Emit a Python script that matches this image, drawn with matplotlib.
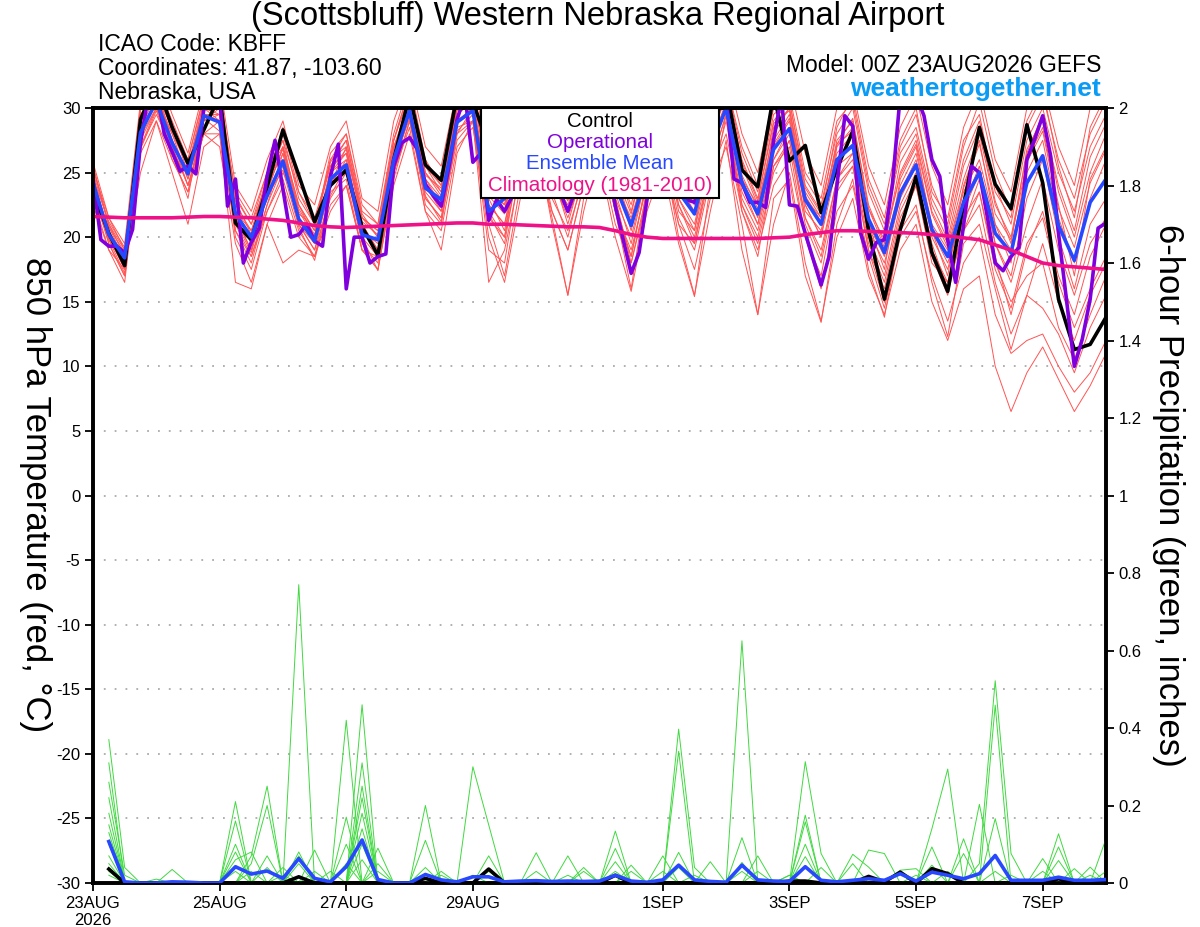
import numpy as np
import matplotlib
matplotlib.use('Agg')
import matplotlib.pyplot as plt
from matplotlib.patches import Rectangle

plt.rcParams['font.family'] = ['Liberation Sans', 'DejaVu Sans']
plt.rcParams['axes.unicode_minus'] = False

# ---------------- data ----------------
title = "(Scottsbluff) Western Nebraska Regional Airport"
tick_hours = [0, 48, 96, 144, 216, 264, 312, 360]
tick_labels = ['23AUG\n2026', '25AUG', '27AUG', '29AUG', '1SEP', '3SEP', '5SEP', '7SEP']

control_t = [23.6, 20.3, 17.8, 29.1, 32.0, 28.5, 25.7, 28.3, 31.0, 21.1, 19.8, 23.9,
             28.3, 24.8, 21.2, 24.0, 25.2, 20.8, 18.6, 26.0, 31.0, 25.6, 24.4, 31.0,
             30.5, 27.0, 25.0, 28.0, 30.0, 27.0, 25.0, 28.0, 31.0, 27.0, 24.0, 27.0,
             30.0, 27.0, 24.5, 28.0, 31.5, 25.2, 23.9, 31.0, 25.9, 27.1, 21.9, 25.3,
             28.2, 20.5, 15.2, 20.6, 24.7, 18.8, 15.8, 22.5, 28.5, 24.1, 22.2, 28.7,
             24.2, 15.2, 11.3, 11.7, 13.8]

mean_t = [24.2, 20.2, 18.4, 28.1, 30.5, 27.3, 24.9, 29.4, 28.9, 21.8, 20.0, 23.2,
          25.9, 21.4, 19.7, 24.5, 25.6, 20.2, 19.8, 26.0, 29.8, 23.8, 22.9, 28.9,
          29.8, 22.0, 23.0, 27.0, 28.5, 25.5, 23.5, 26.0, 28.0, 24.0, 20.9, 25.0,
          28.0, 23.5, 21.8, 26.8, 30.0, 24.2, 21.8, 26.8, 28.4, 22.9, 21.0, 26.0,
          27.1, 21.4, 18.8, 23.4, 25.6, 20.6, 18.5, 22.7, 25.0, 20.3, 18.8, 24.2,
          26.3, 20.9, 18.2, 22.7, 24.5]

# operational at 3-hourly steps
oper_t = [24.5, 19.8, 19.3, 19.3, 18.8, 20.6, 27.3, 31.0, 31.5, 28.0, 26.6, 25.1,
          25.5, 24.9, 29.9, 30.2, 31.0, 22.4, 24.5, 18.0, 19.6, 20.7, 24.7, 27.5,
          23.7, 20.0, 20.2, 21.0, 19.7, 19.3, 24.7, 27.2, 16.0, 20.0, 20.0, 18.0,
          18.5, 18.7, 25.5, 27.3, 27.7, 26.8, 24.1, 23.2, 22.4, 25.5, 29.1, 31.0,
          25.8, 26.5, 21.3, 22.9, 22.0, 23.2, 25.0, 27.0, 28.0, 26.0, 24.0, 23.5,
          22.0, 23.7, 27.0, 29.0, 28.0, 26.0, 22.4, 19.8, 17.2, 18.8, 22.9, 26.0,
          28.5, 28.0, 26.0, 22.9, 22.7, 25.0, 28.0, 30.0, 31.0, 24.5, 24.2, 22.7,
          22.7, 22.3, 27.5, 31.0, 22.5, 22.4, 20.3, 18.3, 16.3, 18.5, 24.0, 29.4,
          28.6, 20.3, 18.3, 19.6, 19.8, 24.0, 31.0, 32.0, 31.0, 29.4, 26.0, 24.7,
          19.8, 16.5, 20.9, 25.5, 25.0, 21.6, 18.0, 17.4, 18.5, 19.2, 26.0, 27.6,
          29.4, 26.3, 20.3, 15.2, 10.0, 12.1, 15.2, 20.7, 21.1]

clim_t = [21.6, 21.55, 21.5, 21.5, 21.5, 21.5, 21.55, 21.6, 21.6, 21.55, 21.5, 21.4,
          21.3, 21.1, 20.9, 20.8, 20.75, 20.8, 20.85, 20.9, 20.95, 21.0, 21.05, 21.1,
          21.1, 21.0, 21.0, 20.95, 20.9, 20.85, 20.8, 20.8, 20.75, 20.5, 20.2, 20.0,
          19.9, 19.9, 19.9, 19.9, 19.9, 19.9, 19.9, 19.95, 20.0, 20.2, 20.35, 20.5,
          20.5, 20.45, 20.4, 20.35, 20.3, 20.2, 20.1, 19.95, 19.8, 19.4, 19.0, 18.5,
          18.0, 17.8, 17.7, 17.6, 17.5]

ens_t = [
    [25.5, 21.0, 18.5, 30.0, 32.0, 29.0, 26.0, 31.0, 31.5, 23.0, 21.0, 25.0, 28.0, 23.0, 21.0, 26.0,
     28.0, 22.0, 21.0, 28.0, 32.0, 26.0, 24.0, 30.0, 31.5, 25.0, 24.0, 29.0, 31.0, 27.0, 25.0, 28.0,
     31.0, 26.0, 23.0, 28.0, 31.0, 26.0, 23.5, 29.0, 32.0, 27.0, 24.0, 30.0, 31.0, 25.0, 23.0, 29.0,
     30.5, 24.0, 21.0, 27.0, 29.5, 24.0, 21.0, 27.0, 30.5, 25.0, 22.0, 28.5, 31.0, 26.0, 23.0, 28.0, 30.5],
    [24.0, 19.5, 17.0, 26.5, 29.0, 26.0, 23.5, 28.0, 27.0, 19.5, 16.5, 21.0, 24.0, 20.0, 18.5, 22.0,
     24.0, 19.0, 17.5, 24.0, 28.0, 22.0, 20.5, 27.0, 28.5, 21.0, 17.0, 24.0, 26.0, 22.0, 19.0, 24.0,
     26.5, 21.0, 18.0, 23.0, 26.0, 21.0, 19.5, 25.0, 28.0, 22.0, 19.0, 24.0, 26.0, 20.0, 16.0, 22.0,
     24.0, 18.5, 14.5, 20.0, 22.0, 17.0, 13.5, 18.0, 20.0, 14.0, 11.0, 12.0, 12.5, 10.0, 8.0, 9.5, 12.0],
    [23.0, 19.0, 16.5, 27.0, 30.0, 27.5, 25.0, 29.5, 29.5, 20.5, 18.5, 22.5, 26.5, 21.0, 19.0, 23.0,
     25.0, 19.5, 18.0, 25.5, 29.5, 22.5, 21.0, 28.0, 29.0, 20.0, 16.5, 23.0, 27.5, 21.0, 15.5, 22.0,
     27.0, 22.0, 16.0, 24.0, 27.0, 20.0, 15.5, 22.0, 27.5, 19.0, 14.0, 21.0, 25.0, 18.0, 13.5, 20.0,
     23.0, 17.0, 14.0, 19.0, 21.0, 15.0, 12.0, 16.0, 17.0, 10.0, 6.5, 9.5, 11.5, 9.0, 6.5, 8.5, 11.0],
    [24.5, 20.5, 18.0, 28.5, 31.0, 28.0, 25.5, 30.0, 29.0, 21.5, 19.0, 24.0, 26.5, 22.0, 20.0, 25.0,
     26.0, 20.5, 19.5, 27.0, 30.5, 24.0, 22.5, 29.0, 30.0, 22.5, 21.0, 26.0, 29.0, 24.0, 22.0, 25.5,
     28.5, 23.0, 20.0, 25.0, 28.5, 22.0, 20.5, 26.0, 30.5, 24.0, 21.0, 27.0, 29.0, 22.0, 20.5, 26.0,
     27.0, 21.0, 18.5, 23.5, 26.0, 20.0, 17.5, 22.5, 25.5, 19.5, 17.0, 23.0, 26.0, 20.0, 16.0, 21.0, 23.0],
    [25.0, 21.0, 19.0, 29.0, 31.5, 27.0, 24.0, 28.5, 30.5, 22.5, 20.5, 23.5, 27.0, 21.0, 19.0, 24.0,
     27.0, 21.5, 20.5, 27.5, 31.0, 25.5, 23.5, 30.5, 31.5, 24.0, 22.0, 28.0, 30.0, 26.0, 24.0, 27.5,
     30.0, 25.0, 21.0, 26.0, 29.5, 24.0, 22.0, 28.0, 31.5, 25.5, 22.5, 28.0, 30.0, 23.5, 21.5, 27.5,
     29.0, 22.5, 19.5, 25.0, 27.5, 22.0, 19.5, 24.5, 28.0, 22.5, 20.0, 26.5, 29.5, 23.5, 20.0, 25.0, 28.0],
    [22.5, 19.0, 17.5, 25.0, 29.0, 25.0, 21.0, 27.0, 28.0, 16.5, 16.0, 21.0, 18.0, 19.0, 18.5, 22.5,
     24.0, 19.0, 17.5, 25.0, 28.5, 22.0, 19.0, 26.5, 29.0, 16.5, 19.0, 25.0, 27.0, 21.5, 15.5, 23.0,
     26.0, 20.0, 15.8, 22.0, 25.5, 19.5, 15.4, 24.0, 27.0, 21.0, 14.0, 23.0, 24.5, 17.0, 13.4, 21.0,
     24.5, 17.5, 13.8, 20.5, 22.5, 16.5, 12.3, 19.5, 21.0, 16.0, 11.3, 15.5, 14.5, 12.5, 9.5, 13.0, 15.5],
    [24.0, 20.0, 18.5, 28.0, 30.5, 28.0, 24.5, 29.0, 29.5, 22.0, 20.5, 24.5, 27.5, 23.5, 21.0, 25.5,
     26.5, 21.5, 20.5, 27.0, 30.0, 24.5, 23.0, 29.5, 30.5, 23.5, 22.5, 27.5, 29.5, 25.5, 23.0, 26.0,
     29.0, 24.0, 21.5, 25.5, 29.0, 23.5, 22.0, 27.0, 30.5, 24.5, 22.5, 27.5, 29.5, 23.0, 21.5, 26.5,
     28.0, 21.5, 19.0, 24.0, 26.5, 21.0, 19.0, 23.5, 26.0, 21.0, 19.0, 25.0, 27.5, 21.5, 18.0, 23.0, 26.0],
    [24.8, 20.0, 17.5, 27.5, 30.0, 26.5, 23.0, 30.0, 30.0, 21.0, 18.5, 22.0, 24.5, 20.5, 18.5, 23.5,
     24.5, 19.0, 18.5, 25.0, 29.0, 23.0, 21.5, 28.0, 30.0, 23.0, 20.5, 26.5, 28.5, 24.5, 21.5, 25.0,
     27.5, 22.5, 18.5, 24.5, 27.5, 22.5, 20.0, 25.5, 29.5, 23.0, 20.5, 26.0, 28.0, 21.5, 19.0, 24.5,
     26.0, 19.5, 16.5, 22.0, 24.5, 19.0, 16.5, 21.5, 23.5, 17.5, 14.5, 19.5, 21.5, 16.5, 13.0, 16.0, 18.5],
    [25.8, 21.5, 19.5, 30.5, 33.0, 29.5, 26.5, 31.5, 32.0, 24.0, 22.0, 26.0, 29.0, 24.0, 22.5, 27.0,
     29.0, 23.0, 22.0, 29.0, 32.5, 27.0, 25.5, 31.5, 32.0, 26.5, 25.0, 30.0, 32.0, 28.0, 26.5, 29.5,
     32.0, 27.5, 24.5, 29.5, 32.0, 27.5, 25.0, 30.5, 33.0, 28.0, 25.0, 31.0, 32.0, 26.5, 24.0, 30.0,
     31.5, 25.5, 22.5, 28.5, 31.0, 25.5, 22.5, 28.5, 31.5, 26.0, 23.5, 30.0, 32.0, 27.0, 24.0, 30.0, 32.0],
    [23.5, 19.5, 17.0, 27.0, 29.5, 27.0, 24.0, 28.0, 28.0, 20.5, 18.0, 22.5, 25.5, 21.5, 19.5, 24.0,
     25.0, 20.0, 17.4, 24.5, 29.0, 23.5, 22.0, 28.5, 29.0, 21.5, 20.0, 26.0, 28.0, 23.0, 20.5, 24.5,
     27.5, 22.0, 19.0, 24.0, 27.0, 21.5, 19.0, 24.5, 29.0, 22.5, 20.0, 25.5, 27.5, 21.0, 18.0, 24.0,
     25.5, 19.0, 16.0, 21.5, 24.0, 18.0, 16.5, 20.5, 23.5, 18.0, 15.0, 17.0, 18.0, 13.0, 10.5, 14.0, 17.0],
    [25.2, 21.5, 19.0, 29.5, 31.0, 28.5, 25.0, 30.5, 30.5, 23.5, 21.5, 25.0, 27.0, 22.5, 20.5, 26.5,
     28.0, 22.5, 21.0, 27.5, 31.5, 25.5, 24.0, 30.0, 31.0, 25.5, 23.5, 29.0, 30.5, 26.5, 24.5, 28.5,
     30.5, 25.5, 22.5, 27.5, 30.5, 25.5, 23.0, 29.5, 32.0, 26.5, 23.5, 29.5, 30.5, 24.5, 22.5, 28.0,
     30.0, 23.5, 20.5, 26.5, 28.5, 23.0, 20.5, 26.0, 29.0, 24.0, 21.0, 27.5, 30.0, 25.0, 22.0, 27.0, 29.5],
    [24.0, 20.5, 18.0, 28.5, 30.5, 26.0, 23.5, 29.5, 29.0, 22.0, 19.5, 23.0, 26.0, 21.0, 19.5, 24.0,
     26.0, 21.0, 19.0, 26.0, 30.0, 24.0, 22.0, 29.0, 30.0, 22.5, 21.0, 27.0, 29.0, 24.5, 22.5, 26.0,
     28.5, 23.5, 19.5, 25.0, 28.0, 23.0, 21.0, 26.5, 30.0, 23.5, 21.0, 26.0, 28.5, 22.5, 20.0, 25.5,
     26.5, 20.5, 18.0, 23.0, 25.5, 20.5, 18.0, 22.0, 25.0, 19.5, 16.5, 21.0, 24.5, 19.0, 15.5, 19.5, 21.5],
    [24.5, 19.8, 17.8, 28.8, 31.5, 27.5, 24.5, 29.0, 30.0, 21.5, 19.0, 23.5, 27.0, 22.5, 20.0, 25.0,
     26.5, 20.0, 18.5, 26.5, 31.0, 24.5, 22.5, 29.5, 30.5, 22.0, 20.0, 27.5, 29.5, 25.0, 21.0, 25.5,
     29.5, 24.5, 20.5, 26.0, 29.5, 23.0, 20.5, 27.5, 31.0, 24.5, 21.5, 28.5, 30.0, 22.5, 20.0, 27.0,
     28.5, 21.0, 17.5, 24.5, 27.0, 20.5, 17.0, 24.0, 27.5, 21.0, 18.0, 26.0, 28.5, 22.5, 17.0, 24.5, 27.0],
    [23.8, 20.8, 18.8, 27.8, 30.0, 27.0, 25.2, 30.0, 29.5, 22.8, 20.2, 24.8, 27.5, 21.8, 20.8, 25.8,
     27.5, 21.8, 20.0, 26.8, 30.8, 25.0, 23.2, 30.2, 31.0, 24.5, 22.0, 28.5, 30.0, 25.8, 23.8, 27.0,
     30.0, 24.8, 21.8, 26.8, 29.8, 24.8, 22.5, 28.2, 31.2, 25.8, 22.8, 28.8, 29.8, 23.8, 21.8, 27.2,
     29.2, 22.2, 19.2, 25.8, 28.0, 22.5, 19.8, 25.5, 28.5, 22.8, 19.5, 26.8, 29.2, 24.0, 20.5, 26.2, 28.8],
    [24.2, 20.0, 18.0, 29.0, 31.0, 27.5, 24.0, 28.0, 29.0, 20.0, 17.5, 22.0, 25.0, 22.5, 20.5, 26.0,
     27.0, 21.0, 19.0, 25.0, 30.0, 23.0, 21.5, 27.5, 29.0, 19.0, 18.0, 25.5, 28.0, 22.0, 19.0, 24.0,
     29.0, 23.0, 18.0, 23.5, 26.5, 21.0, 17.5, 23.0, 29.5, 22.0, 18.5, 25.5, 27.0, 20.0, 17.0, 23.5,
     25.5, 19.0, 15.0, 21.0, 24.0, 18.5, 15.5, 21.0, 24.5, 18.5, 14.0, 19.0, 22.0, 17.0, 14.0, 18.5, 21.0],
    [25.5, 20.8, 18.2, 29.8, 32.5, 28.8, 25.5, 30.5, 30.0, 22.0, 20.0, 24.5, 28.5, 23.5, 21.5, 25.5,
     27.5, 21.5, 20.0, 27.5, 31.5, 25.0, 23.5, 31.0, 32.0, 24.0, 22.5, 29.5, 31.5, 27.0, 24.0, 28.5,
     31.5, 26.0, 22.0, 27.0, 30.5, 25.0, 22.5, 29.0, 31.5, 26.0, 23.0, 29.0, 30.5, 24.0, 22.0, 28.5,
     31.0, 24.5, 21.5, 27.5, 30.0, 23.5, 21.5, 27.5, 29.5, 23.5, 21.5, 29.0, 31.5, 25.5, 21.5, 28.5, 31.0],
    [23.2, 19.8, 17.2, 26.8, 29.8, 26.5, 24.8, 29.2, 28.2, 21.2, 18.8, 23.2, 25.2, 20.8, 18.2, 23.2,
     25.5, 20.5, 18.8, 25.8, 29.2, 23.2, 21.2, 28.2, 29.5, 21.8, 19.5, 26.5, 28.5, 23.5, 20.0, 25.0,
     28.0, 22.0, 18.5, 24.5, 28.5, 22.5, 19.5, 25.5, 29.5, 22.5, 19.5, 25.0, 27.5, 21.5, 18.5, 24.5,
     26.5, 20.0, 17.0, 22.5, 25.0, 19.5, 16.0, 20.5, 22.5, 16.5, 12.5, 15.5, 19.5, 15.0, 12.0, 15.5, 18.0],
    [24.6, 21.2, 19.2, 29.2, 31.8, 28.2, 26.0, 30.8, 30.8, 23.2, 21.0, 24.2, 26.8, 22.2, 20.2, 25.2,
     26.8, 21.2, 20.2, 26.2, 30.2, 24.8, 23.8, 29.8, 30.8, 23.2, 21.8, 27.8, 29.8, 25.2, 22.8, 27.2,
     29.8, 24.2, 21.2, 25.8, 29.2, 24.2, 21.8, 27.8, 30.8, 24.8, 22.2, 27.2, 29.2, 23.2, 21.2, 27.2,
     28.2, 22.2, 19.8, 24.8, 27.2, 21.8, 19.2, 23.8, 27.2, 21.8, 19.8, 25.8, 28.2, 22.2, 19.2, 24.2, 26.8],
]

mean_p = [0.107, 0.003, 0.0, 0.0, 0.003, 0.002, 0.0, 0.0, 0.042, 0.023, 0.031, 0.012,
          0.063, 0.012, 0.003, 0.042, 0.111, 0.009, 0.0, 0.0, 0.022, 0.008, 0.003, 0.016,
          0.016, 0.003, 0.005, 0.006, 0.004, 0.005, 0.004, 0.005, 0.020, 0.005, 0.002, 0.008,
          0.046, 0.008, 0.004, 0.002, 0.046, 0.008, 0.005, 0.004, 0.042, 0.007, 0.003, 0.007,
          0.011, 0.007, 0.024, 0.005, 0.028, 0.020, 0.011, 0.024, 0.071, 0.007, 0.007, 0.007,
          0.015, 0.007, 0.007, 0.009]

control_p = [0.036, 0, 0, 0, 0, 0, 0, 0, 0, 0, 0, 0,
             0.016, 0, 0, 0, 0, 0, 0, 0, 0.012, 0, 0, 0,
             0.036, 0, 0, 0, 0, 0, 0, 0, 0.020, 0, 0, 0,
             0, 0, 0, 0, 0, 0, 0, 0.005, 0.005, 0, 0, 0,
             0.017, 0.003, 0.028, 0, 0.037, 0.024, 0, 0, 0, 0, 0, 0,
             0.011, 0, 0, 0]

ens_p = [
    [.37, .04, 0, 0, 0, 0, 0, 0, 0, 0, 0, .04, 0, 0, .03, 0, .31, 0, 0, 0, .04, 0, 0, 0,
     0, 0, 0, .078, 0, 0, 0, 0, 0, 0, 0, .03, 0, 0, 0, 0, .625, 0, 0, 0, 0, 0, 0, 0,
     0, 0, 0, 0, 0, 0, 0, .203, 0, 0, 0, .03, 0, 0, 0, 0],
    [.31, 0, 0, 0, 0, 0, 0, 0, .21, 0, 0, 0, .07, 0, 0, .05, 0, .03, 0, 0, 0, 0, 0, 0,
     .07, 0, 0, 0, 0, .02, 0, 0, 0, 0, 0, 0, .34, 0, 0, 0, 0, 0, 0, .02, 0, 0, 0, 0,
     0, 0, 0, 0, .14, .294, 0, 0, 0, 0, 0, 0, .058, 0, 0, 0],
    [.26, .02, 0, 0, 0, 0, 0, 0, .06, .08, 0, 0, 0, .03, 0, 0, .22, 0, 0, 0, 0, .03, 0, 0,
     0, 0, 0, 0, 0, 0, .04, 0, 0, 0, 0, 0, 0, .02, 0, 0, 0, 0, 0, 0, .313, .076, 0, 0,
     0, 0, 0, 0, 0, 0, 0, 0, .166, 0, 0, 0, 0, 0, .02, 0],
    [.22, 0, 0, 0, .035, 0, 0, 0, 0, 0, .07, 0, 0, 0, 0, .42, 0, .09, 0, 0, 0, 0, 0, 0,
     0, 0, 0, .03, 0, 0, 0, 0, 0, .046, 0, 0, 0, 0, 0, 0, .117, 0, 0, 0, 0, 0, 0, 0,
     .085, .076, 0, 0, 0, 0, 0, 0, 0, 0, 0, 0, 0, 0, 0, .114],
    [.18, 0, 0, 0, 0, 0, 0, 0, .16, 0, 0, 0, .08, 0, 0, 0, .14, 0, 0, 0, .11, 0, 0, 0,
     0, 0, 0, 0, 0, .07, 0, 0, 0, 0, 0, .07, 0, 0, 0, 0, 0, .03, 0, 0, .158, 0, 0, 0,
     0, 0, 0, 0, 0, 0, .114, 0, 0, 0, 0, 0, .127, 0, 0, 0],
    [.15, 0, 0, .01, 0, 0, 0, 0, 0, .07, .25, 0, 0, 0, 0, 0, .25, 0, 0, 0, 0, .02, 0, 0,
     0, 0, 0, 0, 0, 0, 0, 0, .089, 0, 0, 0, .079, 0, 0, 0, 0, 0, 0, 0, .068, 0, 0, 0,
     0, 0, 0, .02, 0, 0, 0, .05, .522, .076, 0, 0, 0, 0, 0, 0],
    [.13, 0, 0, 0, 0, 0, 0, 0, .10, 0, 0, 0, 0, .085, 0, 0, .10, 0, 0, 0, 0, 0, 0, .30,
     .15, 0, 0, 0, 0, 0, 0, 0, 0, 0, 0, 0, 0, 0, 0, 0, .053, 0, 0, 0, 0, 0, 0, .074,
     .041, 0, 0, 0, 0, 0, 0, 0, 0, 0, 0, 0, .093, 0, 0, 0],
    [.10, 0, 0, 0, 0, 0, 0, 0, 0, .05, .20, 0, 0, 0, 0, 0, .18, 0, 0, 0, 0, 0, 0, .02,
     0, 0, 0, 0, 0, 0, 0, 0, .134, 0, 0, 0, 0, 0, 0, 0, .03, 0, 0, 0, .10, 0, 0, 0,
     0, 0, 0, 0, .093, 0, 0, 0, 0, 0, 0, .063, 0, 0, 0, 0],
    [.07, 0, 0, 0, 0, 0, 0, 0, .08, 0, 0, .02, 0, 0, 0, .17, 0, .05, 0, 0, 0, 0, 0, 0,
     0, 0, 0, 0, 0, 0, .03, 0, 0, 0, 0, 0, .397, .04, 0, 0, 0, 0, 0, 0, 0, .04, 0, 0,
     0, 0, 0, 0, 0, 0, .076, 0, 0, 0, 0, 0, 0, .037, 0, 0],
    [.05, 0, 0, 0, 0, 0, 0, 0, .03, 0, 0, 0, .77, 0, 0, 0, .06, 0, 0, 0, 0, 0, 0, 0,
     .03, 0, 0, 0, 0, 0, 0, 0, .055, 0, 0, 0, 0, 0, 0, 0, 0, .07, 0, 0, 0, 0, 0, 0,
     0, 0, .033, .037, 0, 0, 0, 0, .03, 0, 0, 0, 0, 0, 0, .03],
    [.03, 0, 0, 0, 0, 0, 0, 0, 0, .03, 0, 0, .05, 0, 0, 0, .46, 0, 0, 0, 0, 0, 0, 0,
     0, 0, 0, 0, 0, 0, 0, 0, 0, .03, 0, 0, 0, 0, .055, 0, 0, 0, 0, 0, .175, 0, 0, 0,
     0, 0, 0, 0, .046, 0, 0, 0, 0, .02, 0, 0, 0, 0, .041, 0],
    [.02, 0, 0, 0, 0, 0, 0, 0, 0, 0, .04, 0, 0, 0, 0, .10, 0, 0, 0, 0, .20, 0, 0, 0,
     0, 0, 0, 0, 0, 0, 0, 0, .03, 0, 0, 0, .04, 0, 0, 0, 0, 0, 0, .02, 0, 0, 0, .05,
     0, 0, 0, 0, 0, .03, 0, 0, .459, 0, 0, 0, 0, 0, 0, 0],
]

legend_labels = ['Control', 'Operational', 'Ensemble Mean', 'Climatology (1981-2010)']

# ---------------- styles ----------------
RED = (1.0, 0.33, 0.33)
GREEN = (0.25, 0.85, 0.25)
BLACK = 'black'
PURPLE = '#8000dd'
BLUE = '#2848ff'
PINK = '#ee1188'
legend_colors = [BLACK, PURPLE, BLUE, PINK]

W, H = 1200, 927
fig = plt.figure(figsize=(W / 100, H / 100), dpi=100)
L, R, T, B = 93, 1106, 108, 883
ax = fig.add_axes([L / W, 1 - B / H, (R - L) / W, (B - T) / H])
ax2 = ax.twinx()

def hrs(series, step, start=0):
    return start + step * np.arange(len(series))

for m in ens_t:
    ax.plot(hrs(m, 6), m, color=RED, lw=0.7, zorder=2)
ax.plot(hrs(clim_t, 6), clim_t, color=PINK, lw=2.6, zorder=6)
ax.plot(hrs(control_t, 6), control_t, color=BLACK, lw=2.6, zorder=3)
ax.plot(hrs(oper_t, 3), oper_t, color=PURPLE, lw=2.6, zorder=4)
ax.plot(hrs(mean_t, 6), mean_t, color=BLUE, lw=2.6, zorder=5)

for m in ens_p:
    ax2.plot(hrs(m, 6, 6), m, color=GREEN, lw=0.7, zorder=2)
ax2.plot(hrs(control_p, 6, 6), control_p, color=BLACK, lw=2.6, zorder=3)
ax2.plot(hrs(mean_p, 6, 6), mean_p, color=BLUE, lw=2.6, zorder=4)

ax.set_xlim(0, 384)
ax.set_ylim(-30, 30)
ax2.set_ylim(0, 2)
ax.set_yticks(np.arange(-30, 31, 5))
ax2.set_yticks(np.arange(0, 2.01, 0.2))
ax2.set_yticklabels(['%g' % v for v in np.round(np.arange(0, 2.01, 0.2), 1)])
ax.set_xticks(tick_hours)
ax.set_xticklabels(tick_labels)

ax.grid(axis='y', color='#aaaaaa', linestyle=(0, (1, 5)), linewidth=1.3)
ax.set_axisbelow(True)

for a in (ax, ax2):
    for s in a.spines.values():
        s.set_linewidth(2.6)
ax.tick_params(axis='both', direction='out', length=6, width=1.3, labelsize=12, pad=3)
ax2.tick_params(axis='y', direction='out', length=6, width=1.3, labelsize=12, pad=3)

# legend box
x0 = (481 - L) / (R - L)
x1 = (719 - L) / (R - L)
y0 = (B - 198) / (B - T)
ax2.add_patch(Rectangle((x0, y0), x1 - x0, 1 - y0, transform=ax2.transAxes,
                        facecolor='white', edgecolor='black', lw=1.5, zorder=20, clip_on=False))
for lab, col, yy in zip(legend_labels, legend_colors, [121, 142, 163, 185]):
    ax2.text((x0 + x1) / 2, (B - yy) / (B - T), lab, color=col, fontsize=14.8,
             ha='center', va='center', transform=ax2.transAxes, zorder=21)

# header texts
fig.text(598 / W, 1 - 17 / H, title, ha='center', va='center', fontsize=23.5)
fig.text(98 / W, 1 - 44.5 / H, 'ICAO Code: KBFF', ha='left', va='center', fontsize=16.5)
fig.text(98 / W, 1 - 68.5 / H, 'Coordinates: 41.87, -103.60', ha='left', va='center', fontsize=16.5)
fig.text(98 / W, 1 - 93 / H, 'Nebraska, USA', ha='left', va='center', fontsize=16.5)
fig.text(1101 / W, 1 - 65 / H, 'Model: 00Z 23AUG2026 GEFS', ha='right', va='center', fontsize=16.5)
fig.text(1101 / W, 1 - 89 / H, 'weathertogether.net', ha='right', va='center', fontsize=19,
         fontweight='bold', color='#0a9bf5')

fig.text(35 / W, 1 - 495 / H, '850 hPa Temperature (red, °C)', rotation=270,
         ha='center', va='center', fontsize=25)
fig.text(1168 / W, 1 - 495 / H, '6-hour Precipitation (green, inches)', rotation=270,
         ha='center', va='center', fontsize=25)

fig.savefig('out.png', dpi=100)
